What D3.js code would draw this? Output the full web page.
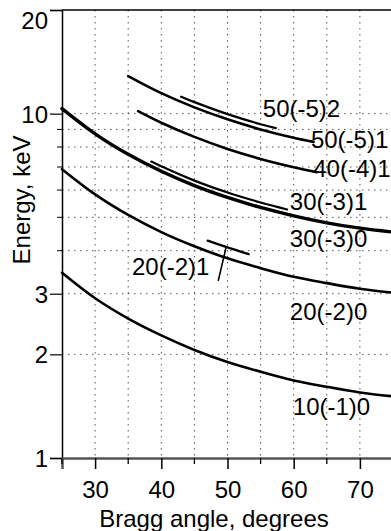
<!DOCTYPE html>
<html>
<head>
<meta charset="utf-8">
<script src="https://cdn.jsdelivr.net/npm/d3@7/dist/d3.min.js"></script>
<style>
  html, body { margin: 0; padding: 0; background: #fff; }
  svg { display: block; font-family: Arial, "Liberation Sans", sans-serif; }
</style>
</head>
<body>
<svg id="chart" width="391" height="531"></svg>
<script>
// ---- data ----
const xTickValues = [30, 40, 50, 60, 70];
const xMinorTicks = [25, 35, 45, 55, 65, 75];
const xGridValues = [30, 35, 40, 45, 50, 55, 60, 65, 70, 75];
const yTickValues = [1, 2, 3, 10, 20];
const yMinorTicks = [4, 5, 6, 7, 8, 9];
const yGridValues = [2, 3, 4, 5, 6, 7, 8, 9, 10];

const angles_10_1_0 = [25, 30, 35, 40, 45, 50, 55, 60, 65, 70, 75];
const energy_10_1_0 = [3.45, 2.91, 2.54, 2.27, 2.06, 1.90, 1.78, 1.68, 1.61, 1.55, 1.51];

const angles_20_2_0 = [25, 30, 35, 40, 45, 50, 55, 60, 65, 70, 75];
const energy_20_2_0 = [6.90, 5.83, 5.08, 4.53, 4.12, 3.80, 3.56, 3.36, 3.22, 3.10, 3.02];

const angles_20_2_1 = [47, 50, 53.2];
const energy_20_2_1 = [4.28, 4.09, 3.91];

const angles_30_3_0 = [25, 30, 35, 40, 45, 50, 55, 60, 65, 70, 75];
const energy_30_3_0 = [10.34, 8.74, 7.62, 6.80, 6.18, 5.71, 5.34, 5.05, 4.82, 4.65, 4.53];

const angles_30_3_1 = [38.5, 40, 45, 50, 55, 59];
const energy_30_3_1 = [7.26, 7.03, 6.39, 5.90, 5.52, 5.27];

const angles_40_4_1 = [36.5, 40, 45, 50, 55, 60, 63.5];
const energy_40_4_1 = [10.17, 9.41, 8.56, 7.90, 7.39, 6.99, 6.76];

const angles_50_5_1 = [35, 40, 45, 50, 55, 60, 63];
const energy_50_5_1 = [12.86, 11.47, 10.43, 9.63, 9.00, 8.51, 8.28];

const angles_50_5_2 = [43, 45, 50, 55, 57.3];
const energy_50_5_2 = [11.20, 10.80, 9.97, 9.32, 9.08];

const curveNames = ["10(-1)0", "20(-2)0", "20(-2)1", "30(-3)0", "30(-3)1", "40(-4)1", "50(-5)1", "50(-5)2"];

// ---- layout (positions / styles, kept apart from data) ----
const W = 391, H = 531;
const plotL = 62, plotR = 393, plotT = 10, plotB = 458;
const curveStyle = {
  "10(-1)0": 2.6, "20(-2)0": 2.6, "20(-2)1": 2.3, "30(-3)0": 3.4,
  "30(-3)1": 2.2, "40(-4)1": 2.6, "50(-5)1": 2.6, "50(-5)2": 2.2
};
// label anchor in data coords [angle, energy] (left/baseline)
const labelAnchor = {
  "50(-5)2": [55.34, 9.78],
  "50(-5)1": [62.6, 7.95],
  "40(-4)1": [62.95, 6.55],
  "30(-3)1": [59.42, 5.25],
  "30(-3)0": [59.42, 4.10],
  "20(-2)1": [35.57, 3.40],
  "20(-2)0": [59.42, 2.52],
  "10(-1)0": [59.87, 1.33]
};
const leader = [[48.6, 3.27], [49.6, 3.95], [49.8, 4.11]];

const series = [
  { name: "10(-1)0", a: angles_10_1_0, e: energy_10_1_0 },
  { name: "20(-2)0", a: angles_20_2_0, e: energy_20_2_0 },
  { name: "20(-2)1", a: angles_20_2_1, e: energy_20_2_1 },
  { name: "30(-3)0", a: angles_30_3_0, e: energy_30_3_0 },
  { name: "30(-3)1", a: angles_30_3_1, e: energy_30_3_1 },
  { name: "40(-4)1", a: angles_40_4_1, e: energy_40_4_1 },
  { name: "50(-5)1", a: angles_50_5_1, e: energy_50_5_1 },
  { name: "50(-5)2", a: angles_50_5_2, e: energy_50_5_2 }
];

const svg = d3.select("#chart");
svg.append("rect").attr("width", W).attr("height", H).attr("fill", "#fff");

const x = d3.scaleLinear().domain([25, 75]).range([plotL, plotR]);
const y = d3.scaleLog().domain([1, 20]).range([plotB, plotT]);

// grid
const grid = svg.append("g").attr("stroke", "#555").attr("stroke-width", 1)
  .attr("stroke-dasharray", "1.5,4.5");
grid.selectAll("line.v").data(xGridValues).join("line").attr("class", "v")
  .attr("x1", d => x(d)).attr("x2", d => x(d)).attr("y1", plotT).attr("y2", plotB);
grid.selectAll("line.h").data(yGridValues).join("line").attr("class", "h")
  .attr("x1", plotL).attr("x2", plotR).attr("y1", d => y(d)).attr("y2", d => y(d));

// frame: top
svg.append("line").attr("x1", plotL).attr("x2", plotR).attr("y1", plotT).attr("y2", plotT)
  .attr("stroke", "#000").attr("stroke-width", 1.5);

// y axis
const yAxis = d3.axisLeft(y).tickValues(yTickValues).tickFormat(d3.format("d"))
  .tickSize(12).tickPadding(2);
const yg = svg.append("g").attr("transform", `translate(${plotL},0)`).call(yAxis);
yg.select(".domain").attr("stroke", "#000").attr("stroke-width", 1.5);
yg.selectAll(".tick line").attr("stroke", "#000").attr("stroke-width", 1.2);
yg.selectAll(".tick text").attr("font-size", 24).attr("fill", "#000")
  .attr("font-family", "Arial, 'Liberation Sans', sans-serif")
  .attr("dy", d => d === 20 ? "0.78em" : "0.36em");
yg.selectAll("line.minor").data(yMinorTicks).join("line").attr("class", "minor")
  .attr("x1", -5).attr("x2", 0).attr("y1", d => y(d)).attr("y2", d => y(d))
  .attr("stroke", "#000").attr("stroke-width", 1);

// x axis
const xAxis = d3.axisBottom(x).tickValues(xTickValues).tickFormat(d3.format("d"))
  .tickSize(11).tickPadding(12);
const xg = svg.append("g").attr("transform", `translate(0,${plotB})`).call(xAxis);
xg.select(".domain").attr("stroke", "#555").attr("stroke-width", 2.5);
xg.selectAll(".tick line").attr("stroke", "#000").attr("stroke-width", 1.5);
xg.selectAll(".tick text").attr("font-size", 24).attr("fill", "#000")
  .attr("font-family", "Arial, 'Liberation Sans', sans-serif");
xg.selectAll("line.minor").data(xMinorTicks).join("line").attr("class", "minor")
  .attr("x1", d => x(d)).attr("x2", d => x(d)).attr("y1", 0).attr("y2", 6)
  .attr("stroke", "#000").attr("stroke-width", 1.3);

// axis titles
svg.append("text").attr("x", 214).attr("y", 527).attr("text-anchor", "middle")
  .attr("font-size", 24).text("Bragg angle, degrees");
svg.append("text").attr("transform", "translate(30,200) rotate(-90)")
  .attr("text-anchor", "middle").attr("font-size", 24).text("Energy, keV");

// curves
const line = d3.line().x(d => x(d[0])).y(d => y(d[1])).curve(d3.curveCatmullRom.alpha(0.5));
svg.append("g").selectAll("path").data(series).join("path")
  .attr("d", s => line(s.a.map((a, i) => [a, s.e[i]])))
  .attr("fill", "none").attr("stroke", "#000")
  .attr("stroke-width", s => curveStyle[s.name])
  .attr("stroke-linecap", "round");

// leader line for 20(-2)1
svg.append("path").attr("d", d3.line().x(d => x(d[0])).y(d => y(d[1]))(leader))
  .attr("fill", "none").attr("stroke", "#000").attr("stroke-width", 1.6);

// labels
svg.append("g").selectAll("text").data(curveNames).join("text")
  .attr("x", d => x(labelAnchor[d][0])).attr("y", d => y(labelAnchor[d][1]))
  .attr("font-size", 24).attr("fill", "#000").text(d => d);
</script>
</body>
</html>
